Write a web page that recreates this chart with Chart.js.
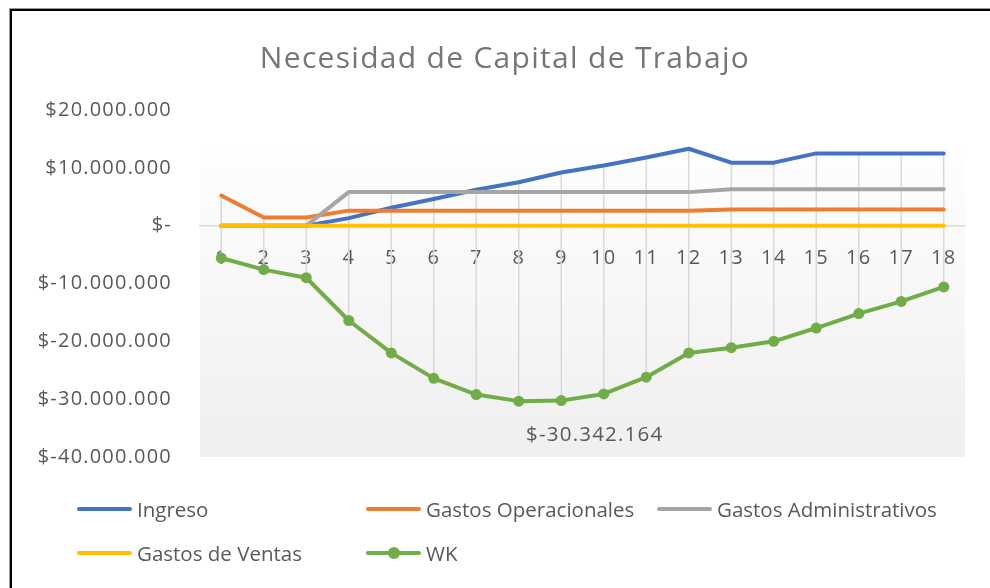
<!DOCTYPE html>
<html>
<head>
<meta charset="utf-8">
<script src="https://cdn.jsdelivr.net/npm/chart.js@4.4.0/dist/chart.umd.min.js"></script>
<style>
  html, body { margin: 0; padding: 0; background: #fff; }
  #wrap { position: relative; width: 990px; height: 588px; overflow: hidden; }
  #frame { position: absolute; left: 10px; top: 9px; width: 1000px; height: 600px;
           border-top: 2px solid #000; border-left: 2px solid #000;
           box-shadow: -1px -1px 0 #999; }
  #title { position: absolute; left: 0; top: 37px; width: 1010px; text-align: center;
           font-family: 'Open Sans', sans-serif; font-size: 30px; line-height: 40px;
           letter-spacing: 1.3px; color: #767676; white-space: nowrap; }
  #legend { position: absolute; left: 0; top: 0; width: 990px; height: 588px;
            font-family: 'Open Sans', sans-serif; font-size: 20.5px; color: #595959; }
  .item { position: absolute; display: flex; align-items: center; height: 24px; white-space: nowrap; }
  .swatch { position: relative; width: 55px; height: 4px; border-radius: 2px; margin-right: 5px; }
  .dot { position: absolute; left: 22px; top: -4px; width: 12px; height: 12px; border-radius: 50%; }
</style>
</head>
<body>
<div id="wrap">
  <div id="frame"></div>
  <canvas id="myChart" width="990" height="588"></canvas>
  <div id="title">Necesidad de Capital de Trabajo</div>
  <div id="legend"></div>
</div>
<script>
const periods = ["1", "2", "3", "4", "5", "6", "7", "8", "9", "10", "11", "12", "13", "14", "15", "16", "17", "18"];

const ingreso = [0, 0, 0, 1300000, 3100000, 4600000, 6200000, 7500000, 9200000,
  10400000, 11800000, 13300000, 10900000, 10900000, 12500000, 12500000, 12500000, 12500000];
const gastosOperacionales = [5200000, 1400000, 1400000, 2600000, 2600000, 2600000, 2600000, 2600000, 2600000,
  2600000, 2600000, 2600000, 2800000, 2800000, 2800000, 2800000, 2800000, 2800000];
const gastosAdministrativos = [0, 0, 0, 5800000, 5800000, 5800000, 5800000, 5800000, 5800000,
  5800000, 5800000, 5800000, 6300000, 6300000, 6300000, 6300000, 6300000, 6300000];
const gastosVentas = [0, 0, 0, 0, 0, 0, 0, 0, 0, 0, 0, 0, 0, 0, 0, 0, 0, 0];
const wk = [-5600000, -7600000, -9000000, -16400000, -22000000, -26400000, -29200000, -30342164, -30250000,
  -29100000, -26200000, -22000000, -21100000, -20000000, -17700000, -15200000, -13100000, -10600000];

const yTicks = [20000000, 10000000, 0, -10000000, -20000000, -30000000, -40000000];

const seriesNames = ["Ingreso", "Gastos Operacionales", "Gastos Administrativos", "Gastos de Ventas", "WK"];
const seriesColors = ["#4472C4", "#ED7D31", "#A5A5A5", "#FFC000", "#70AD47"];

const FONT = "'Open Sans', sans-serif";
const TEXT = "#595959";

function pesos(v) {
  if (v === 0) return "$-";
  const s = String(Math.abs(Math.round(v))).replace(/\B(?=(\d{3})+(?!\d))/g, ".");
  return (v < 0 ? "$-" : "$") + s;
}

// grey plot background with a soft gradient, plus the slightly airy office text spacing
const plotBackground = {
  id: "plotBackground",
  beforeDraw(chart) {
    const { ctx, chartArea } = chart;
    ctx.letterSpacing = "1.2px";
    const top = chartArea.top + 40;
    const g = ctx.createLinearGradient(0, top, 0, chartArea.bottom);
    g.addColorStop(0, "#fefefe");
    g.addColorStop(1, "#efefef");
    ctx.save();
    ctx.fillStyle = g;
    ctx.fillRect(chartArea.left, top, chartArea.right - chartArea.left, chartArea.bottom - top);
    ctx.restore();
  },
  afterDraw(chart) {
    chart.ctx.letterSpacing = "0px";
  }
};

// excel style high-low lines
const highLowLines = {
  id: "highLowLines",
  beforeDatasetsDraw(chart) {
    const { ctx, scales } = chart;
    ctx.save();
    ctx.strokeStyle = "#d9d9d9";
    ctx.lineWidth = 1.5;
    periods.forEach((p, i) => {
      const vals = chart.data.datasets.map(d => d.data[i]);
      const x = scales.x.getPixelForValue(i);
      ctx.beginPath();
      ctx.moveTo(x, scales.y.getPixelForValue(Math.max(...vals)));
      ctx.lineTo(x, scales.y.getPixelForValue(Math.min(...vals)));
      ctx.stroke();
    });
    ctx.restore();
  }
};

// label for the lowest WK point
const minLabel = {
  id: "minLabel",
  afterDatasetsDraw(chart) {
    const idx = wk.indexOf(Math.min(...wk));
    const pt = chart.getDatasetMeta(4).data[idx];
    const { ctx } = chart;
    ctx.save();
    ctx.font = "20.5px " + FONT;
    ctx.fillStyle = TEXT;
    ctx.textAlign = "center";
    ctx.textBaseline = "middle";
    ctx.fillText(pesos(wk[idx]), pt.x + 76, pt.y + 34);
    ctx.restore();
  }
};

const allSeries = [ingreso, gastosOperacionales, gastosAdministrativos, gastosVentas, wk];

new Chart(document.getElementById("myChart"), {
  type: "line",
  data: {
    labels: periods,
    datasets: allSeries.map((data, i) => ({
      label: seriesNames[i],
      data: data,
      borderColor: seriesColors[i],
      backgroundColor: seriesColors[i],
      borderWidth: 4,
      tension: 0,
      borderCapStyle: "round",
      borderJoinStyle: "round",
      pointRadius: i === 4 ? 5.5 : 0,
      pointHoverRadius: i === 4 ? 5.5 : 0,
      pointBorderWidth: 0,
      order: 4 - i
    }))
  },
  options: {
    responsive: false,
    animation: false,
    layout: { padding: { left: 0, right: 25, top: 110, bottom: 131 } },
    plugins: {
      legend: { display: false },
      tooltip: { enabled: false },
      title: { display: false }
    },
    scales: {
      x: {
        position: { y: 0 },
        offset: true,
        grid: { display: false, drawTicks: false },
        border: { display: true, color: "#d9d9d9", width: 1.5 },
        ticks: { color: TEXT, font: { family: FONT, size: 20 }, padding: 21, maxRotation: 0 },
        afterFit(scale) { scale.height = 0; }
      },
      y: {
        min: -40000000,
        max: 20000000,
        grid: { display: false },
        border: { display: false },
        afterBuildTicks(scale) { scale.ticks = yTicks.map(v => ({ value: v })); },
        afterFit(scale) { scale.width = 200; },
        ticks: {
          color: TEXT,
          font: { family: FONT, size: 20 },
          padding: 20,
          callback: v => pesos(v)
        }
      }
    }
  },
  plugins: [plotBackground, highLowLines, minLabel]
});

// legend laid out like the spreadsheet one: three columns, two rows
const legendSpots = [[77, 497], [366, 497], [657, 497], [77, 541], [366, 541]];
const legend = document.getElementById("legend");
seriesNames.forEach((name, i) => {
  const item = document.createElement("div");
  item.className = "item";
  item.style.left = legendSpots[i][0] + "px";
  item.style.top = legendSpots[i][1] + "px";
  const sw = document.createElement("span");
  sw.className = "swatch";
  sw.style.background = seriesColors[i];
  if (i === 4) {
    const dot = document.createElement("span");
    dot.className = "dot";
    dot.style.background = seriesColors[i];
    sw.appendChild(dot);
  }
  item.appendChild(sw);
  item.appendChild(document.createTextNode(name));
  legend.appendChild(item);
});
</script>
</body>
</html>
